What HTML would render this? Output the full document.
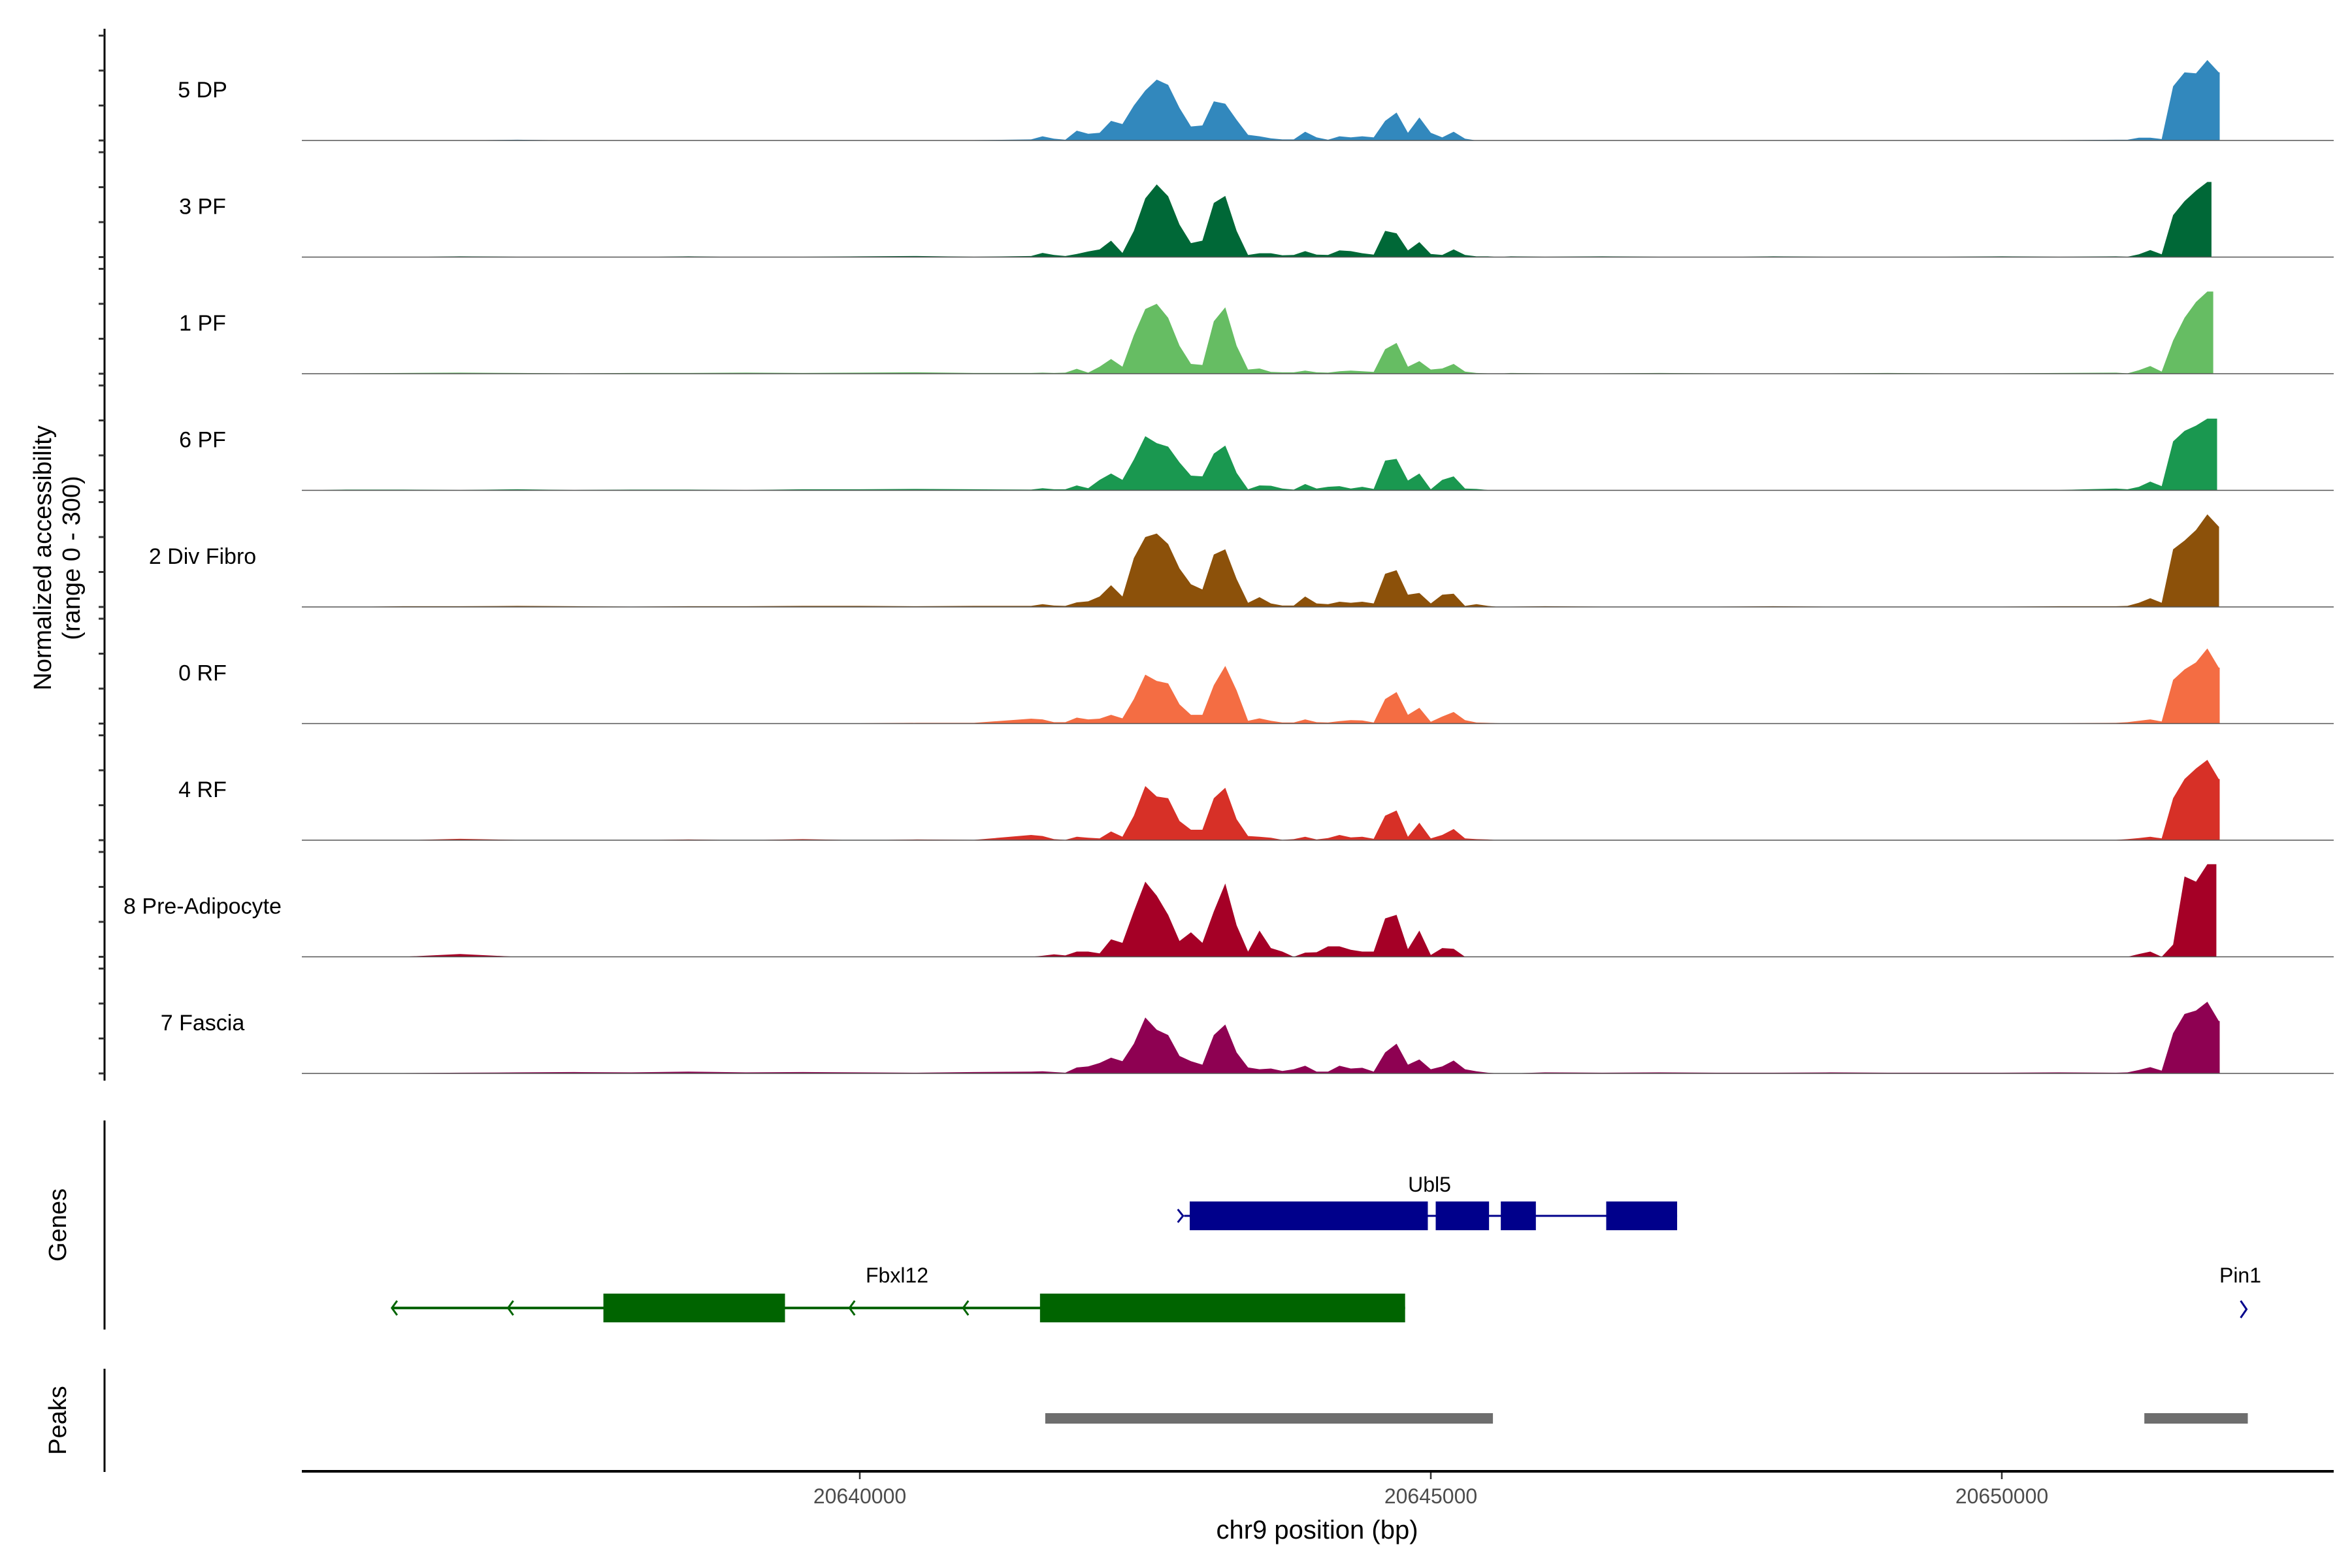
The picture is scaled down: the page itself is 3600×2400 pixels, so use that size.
<!DOCTYPE html>
<html><head><meta charset="utf-8">
<style>
html,body{margin:0;padding:0;background:#fff;}
svg{display:block;font-family:"Liberation Sans",Arial,sans-serif;}
</style></head>
<body>
<svg id="chart" width="3600" height="2400" viewBox="0 0 3600 2400" xmlns="http://www.w3.org/2000/svg">
<rect width="3600" height="2400" fill="#fff"/>
<g id="tracks"></g>
<g id="axes"></g>
<g id="genes"></g>
<g id="peaks"></g>
<text transform="translate(78,854) rotate(-90)" text-anchor="middle" font-size="38" fill="#000">Normalized accessibility</text>
<text transform="translate(122,854) rotate(-90)" text-anchor="middle" font-size="38" fill="#000">(range 0 - 300)</text>
<text transform="translate(101,1875) rotate(-90)" text-anchor="middle" font-size="38" fill="#000">Genes</text>
<text transform="translate(101,2174) rotate(-90)" text-anchor="middle" font-size="38" fill="#000">Peaks</text>
<text x="2016" y="2355" text-anchor="middle" font-size="40" fill="#000">chr9 position (bp)</text>
</svg>
<script>
const trackNames = ["5 DP","3 PF","1 PF","6 PF","2 Div Fibro","0 RF","4 RF","8 Pre-Adipocyte","7 Fascia"];
const trackColors = ["#3288bd","#006837","#66bd63","#1a9850","#8c510a","#f46d43","#d73027","#a50026","#8e0152"];
const leftPositions = [20635500,20636000,20636500,20637000,20637500,20638000,20638500,20639000,20639500,20640000,20640500,20641000];
const mainPositions = [20641500,20641600,20641700,20641800,20641900,20642000,20642100,20642200,20642300,20642400,20642500,20642600,20642700,20642800,20642900,20643000,20643100,20643200,20643300,20643400,20643500,20643600,20643700,20643800,20643900,20644000,20644100,20644200,20644300,20644400,20644500,20644600,20644700,20644800,20644900,20645000,20645100,20645200,20645300,20645400,20645500,20645600,20645700];
const midPositions = [20646000,20646500,20647000,20647500,20648000,20648500,20649000,20649500,20650000,20650500];
const rightPositions = [20651000,20651100,20651200,20651300,20651400,20651500,20651600,20651700,20651800,20651900];
const trackEnds = [20651908,20651836,20651851,20651885,20651902,20651908,20651908,20651879,20651908];
const leftValues = [
[0,1,0,2,0,0,0,0,0,0,0,1],
[0,0,2,1,0,0,2,0,1,2,3,1],
[1,2,3,2,1,2,2,3,2,3,4,2],
[2,2,1,3,1,2,2,1,3,3,4,3],
[0,2,2,3,2,1,2,2,3,3,2,3],
[0,1,1,0,1,1,1,0,1,1,2,2],
[0,0,4,1,0,0,2,0,3,0,2,1],
[0,0,8,0,0,0,0,0,0,0,0,0],
[0,1,2,3,4,3,5,3,4,3,2,4]];
const mainValues = [
[3,12,5,2,28,19,22,56,47,100,143,174,159,93,40,43,112,105,59,16,12,6,3,3,25,9,2,12,9,12,9,56,80,22,66,22,9,25,5,0,0,0,0],
[3,12,6,3,9,16,22,47,12,75,168,208,174,93,40,47,155,175,75,6,11,11,5,6,17,7,6,19,17,11,7,75,68,19,43,9,6,22,6,2,2,0,2],
[2,3,2,3,14,3,20,42,20,110,185,200,160,80,28,25,150,190,80,12,15,5,4,4,9,4,3,7,9,7,5,70,88,20,36,12,15,28,6,2,1,0,2],
[2,6,3,3,14,6,30,48,30,88,155,135,125,80,42,40,105,128,50,3,14,13,5,2,18,5,10,12,5,10,4,85,90,28,48,3,30,40,5,4,1,0,1],
[3,8,4,3,13,16,30,62,30,140,200,210,180,110,65,50,150,165,80,12,28,10,4,4,30,10,8,15,12,15,10,95,105,35,40,10,35,38,3,8,3,0,1],
[14,12,4,4,17,12,14,25,15,70,140,122,115,55,25,25,110,165,95,8,15,8,3,3,12,4,3,7,10,9,3,70,90,25,45,5,20,33,10,3,2,1,1],
[15,12,3,1,10,7,5,25,10,70,155,125,120,55,30,30,120,150,60,12,10,7,1,3,10,2,6,15,8,10,4,70,85,10,50,5,15,32,5,3,2,0,0],
[0,3,7,4,15,15,10,50,40,130,215,175,120,45,70,40,130,210,90,15,75,25,15,0,12,13,30,30,20,15,15,110,120,22,75,5,25,23,0,0,0,0,0],
[5,6,4,2,17,20,30,45,35,85,160,125,110,50,35,25,110,140,60,17,12,14,7,12,22,5,5,22,14,16,5,60,85,25,40,12,20,37,12,6,2,0,0]];
const midValues = [
[0,0,0,1,0,0,1,0,0,1],
[1,2,1,0,2,1,0,1,2,1],
[1,1,2,1,1,1,2,1,1,2],
[1,1,0,1,1,0,1,1,0,1],
[2,1,1,1,2,1,1,1,1,2],
[1,1,1,1,0,1,1,1,1,1],
[0,0,1,0,0,0,0,0,0,0],
[0,0,0,0,0,0,0,0,0,0],
[3,2,3,2,2,3,2,2,2,3]];
const rightValues = [
[2,2,8,8,4,155,195,192,230,195],
[2,1,8,20,8,120,160,190,215,215],
[3,1,10,22,6,95,160,205,235,195],
[5,3,10,25,12,140,170,185,205,165],
[2,3,12,25,12,165,190,220,265,230],
[2,4,8,12,6,125,155,175,215,160],
[1,3,6,10,5,120,175,205,230,175],
[0,0,8,15,0,35,230,215,265,190],
[2,3,10,18,8,115,170,180,205,150]];
const tickValues = [20640000,20645000,20650000];
const tickLabels = ["20640000","20645000","20650000"];
const geneExons = {
  ubl5: [[20642889,20644974],[20645043,20645510],[20645613,20645920],[20646536,20647157]],
  fbxl12: [[20637755,20639345],[20641578,20644775]]
};
const fbxl12Arrows = [20635903,20636920,20639910,20640905];
const peakRanges = [[20641624,20645544],[20651248,20652154]];

const NS = "http://www.w3.org/2000/svg";
const xScale = bp => 1316 + (bp - 20640000) * 0.1748;
const X0 = 462, X1 = 3572;
const baselines = [215,393.5,572,750.5,929,1107.5,1286,1464.5,1643];
const yUnit = 160.5/300;
function mk(tag, attrs, parent){const e=document.createElementNS(NS,tag);for(const k in attrs)e.setAttribute(k,attrs[k]);parent.appendChild(e);return e;}

const tracks = document.getElementById('tracks');
trackNames.forEach((name,i)=>{
  const b = baselines[i];
  const g = mk('g',{},tracks);
  
  
  const pos = [].concat(leftPositions, mainPositions, midPositions);
  const vals = [].concat(leftValues[i], mainValues[i], midValues[i]);
  let pts = [[xScale(20635100), b]];
  pos.forEach((p,j)=>pts.push([xScale(p), b - vals[j]*yUnit]));
  let last = 0;
  rightPositions.forEach((p,j)=>{ if(p <= trackEnds[i]){ pts.push([xScale(p), b - rightValues[i][j]*yUnit]); last = rightValues[i][j]; } });
  pts.push([xScale(trackEnds[i]), b - last*yUnit]);
  pts.push([xScale(trackEnds[i]), b]);
  const area = mk('polygon',{points: pts.map(p=>p[0].toFixed(1)+','+p[1].toFixed(1)).join(' '), fill: trackColors[i]}, g);
  
  
  const bl = mk('line',{x1:X0,x2:X1,y1:b,y2:b,stroke:'#555',"stroke-width":1.6},g);
  
  
  const lab = mk('text',{x:310,y:b-66,"text-anchor":"middle","font-size":34,fill:"#000"},g);
  lab.textContent = name;
  
  
});

const axes = document.getElementById('axes');
const ya = mk('line',{x1:160,x2:160,y1:44,y2:1654,stroke:'#000',"stroke-width":3},axes);


baselines.forEach(b=>{
  [0,100,200,300].forEach(v=>{
    const t = mk('line',{x1:151,x2:160,y1:b-v*yUnit,y2:b-v*yUnit,stroke:'#333',"stroke-width":3},axes);
    
    
  });
});
const ga = mk('line',{x1:160,x2:160,y1:1715,y2:2035,stroke:'#000',"stroke-width":3},axes);


const pa = mk('line',{x1:160,x2:160,y1:2095,y2:2253,stroke:'#000',"stroke-width":3},axes);


const xa = mk('line',{x1:X0,x2:X1,y1:2252,y2:2252,stroke:'#000',"stroke-width":4},axes);


tickValues.forEach((v,i)=>{
  const x = xScale(v);
  const t = mk('line',{x1:x,x2:x,y1:2254,y2:2264,stroke:'#333',"stroke-width":2.5},axes);
  
  
  const l = mk('text',{x:x,y:2301,"text-anchor":"middle","font-size":32,fill:"#4d4d4d"},axes);
  l.textContent = tickLabels[i];
  
  
});

const genes = document.getElementById('genes');
const ublLine = mk('line',{x1:xScale(20642840),x2:xScale(20647157),y1:1861,y2:1861,stroke:'#00008b',"stroke-width":3},genes);


geneExons.ubl5.forEach(e=>{
  const r = mk('rect',{x:xScale(e[0]),y:1839,width:xScale(e[1])-xScale(e[0]),height:44,fill:'#00008b'},genes);
  
  
});
const ua = mk('path',{d:`M${xScale(20642830)-8},1851 L${xScale(20642830)},1861 L${xScale(20642830)-8},1871`,fill:'none',stroke:'#00008b',"stroke-width":3},genes);


const ul = mk('text',{x:2188,y:1824,"text-anchor":"middle","font-size":32,fill:"#000"},genes);
ul.textContent = 'Ubl5';


const fl = mk('line',{x1:xScale(20635903),x2:xScale(20644775),y1:2002,y2:2002,stroke:'#006400',"stroke-width":4},genes);


geneExons.fbxl12.forEach(e=>{
  const r = mk('rect',{x:xScale(e[0]),y:1980,width:xScale(e[1])-xScale(e[0]),height:44,fill:'#006400'},genes);
  
  
});
fbxl12Arrows.forEach(a=>{
  const x = xScale(a);
  const p = mk('path',{d:`M${x+8},1991 L${x},2002 L${x+8},2013`,fill:'none',stroke:'#006400',"stroke-width":3},genes);
  
  
});
const fbl = mk('text',{x:1373,y:1963,"text-anchor":"middle","font-size":32,fill:"#000"},genes);
fbl.textContent = 'Fbxl12';


const px = xScale(20652120);
const pn = mk('path',{d:`M${px-5},1991 L${px+4},2004 L${px-5},2017`,fill:'none',stroke:'#00008b',"stroke-width":3},genes);


const pl = mk('text',{x:3429,y:1963,"text-anchor":"middle","font-size":32,fill:"#000"},genes);
pl.textContent = 'Pin1';



const peaks = document.getElementById('peaks');
peakRanges.forEach(r=>{
  const rc = mk('rect',{x:xScale(r[0]),y:2163,width:xScale(r[1])-xScale(r[0]),height:16,fill:'#6e6e6e'},peaks);
  
  
});
</script>
</body></html>
